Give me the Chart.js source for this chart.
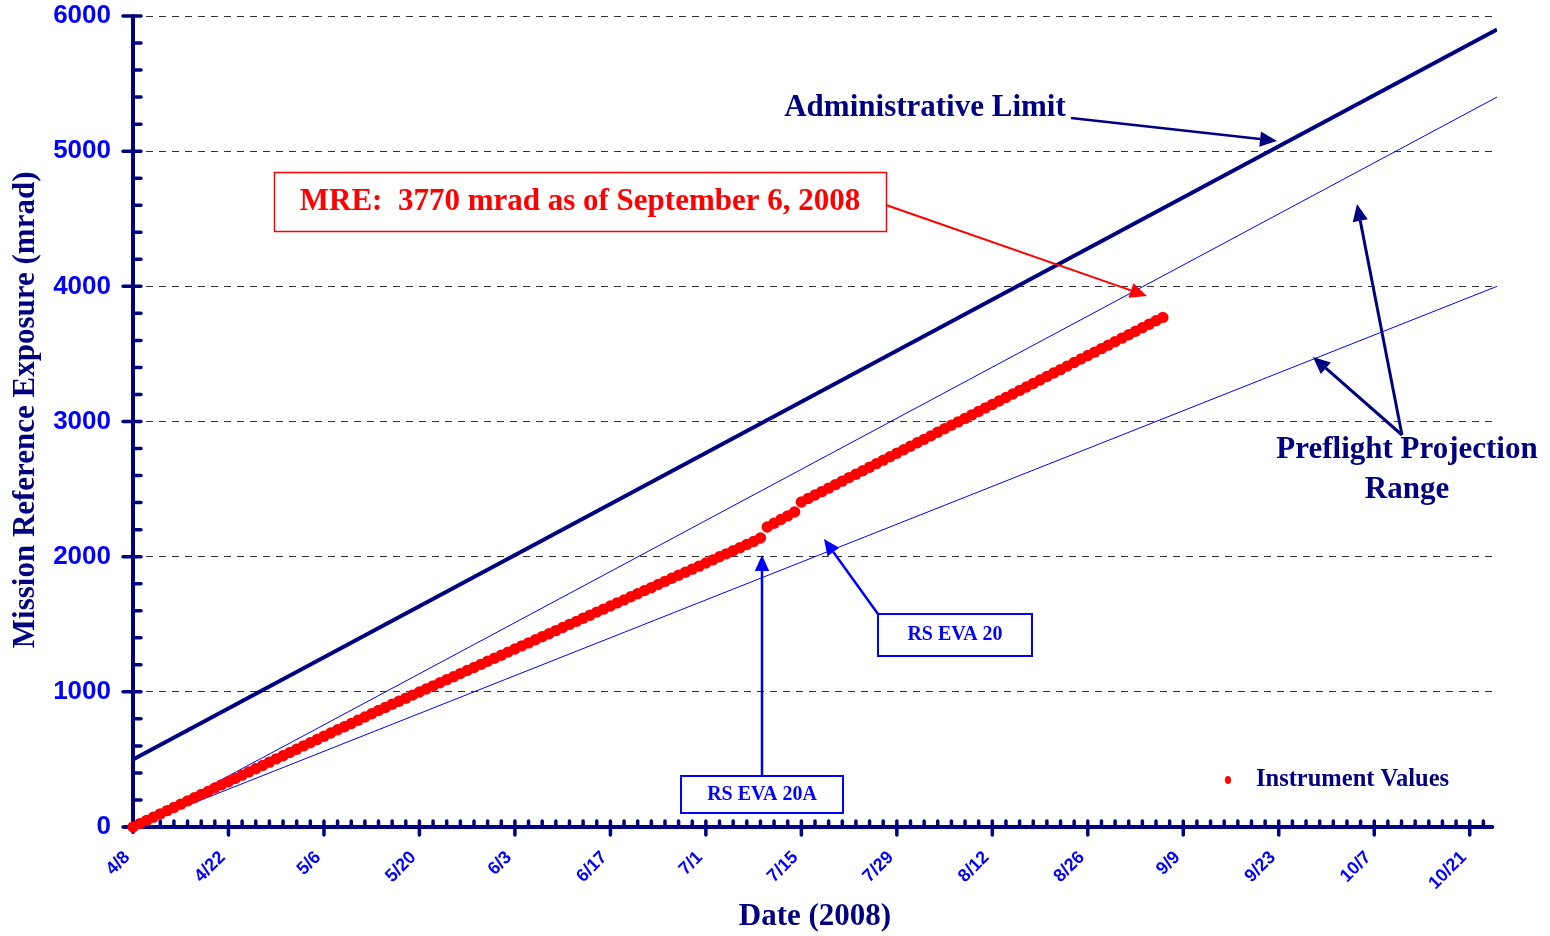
<!DOCTYPE html>
<html>

<head>
    <style>
        body { margin: 0; background: #fff; }
    </style>
</head>

<body>
    <div>
        <canvas id="chartId" width="1550" height="936"></canvas>
    </div>
    <script src="https://cdn.jsdelivr.net/npm/chart.js"></script>
    <script>
        // 1. 데이터
        // x축 : 4/8 기준 경과일, 14일 간격 눈금
        const tickDays = [0, 14, 28, 42, 56, 70, 84, 98, 112, 126, 140, 154, 168, 182, 196];
        const tickLabels = ['4/8', '4/22', '5/6', '5/20', '6/3', '6/17', '7/1', '7/15', '7/29', '8/12', '8/26', '9/9', '9/23', '10/7', '10/21'];
        const yTicks = [0, 1000, 2000, 3000, 4000, 5000, 6000];

        // 직선들 (시작일, 끝일)
        const lineDays = [0, 200];
        const adminLimit = [500, 5900];
        const preflightHigh = [0, 5400];
        const preflightLow = [0, 4000];

        // Instrument Values : 4/8(0일) ~ 9/6(151일), 하루 1점
        const instrumentValues = [
            0, 25, 49, 72, 97, 121, 144, 168, 193, 217,
            240, 263, 288, 312, 335, 359, 384, 408, 431, 455,
            480, 504, 527, 551, 575, 600, 623, 647, 671, 695,
            719, 742, 766, 790, 814, 838, 862, 885, 908, 930,
            953, 976, 999, 1021, 1044, 1067, 1090, 1112, 1135, 1158,
            1180, 1203, 1226, 1249, 1271, 1294, 1317, 1340, 1362, 1385,
            1408, 1430, 1453, 1476, 1499, 1521, 1544, 1567, 1590, 1612,
            1635, 1658, 1680, 1703, 1726, 1749, 1771, 1794, 1817, 1840,
            1862, 1885, 1908, 1930, 1953, 1976, 1999, 2021, 2044, 2067,
            2090, 2112, 2138, 2219, 2247, 2275, 2302, 2330, 2404, 2430,
            2456, 2481, 2507, 2533, 2559, 2585, 2610, 2636, 2662, 2688,
            2714, 2739, 2765, 2791, 2817, 2843, 2868, 2894, 2920, 2946,
            2972, 2997, 3023, 3049, 3075, 3101, 3126, 3152, 3178, 3204,
            3230, 3255, 3281, 3307, 3333, 3359, 3384, 3410, 3436, 3462,
            3488, 3513, 3539, 3565, 3591, 3617, 3642, 3668, 3694, 3720,
            3745, 3770
        ];

        const NAVY = '#000080';
        const BLUE = '#0000FF';
        const RED = '#FF0000';
        const SERIF = '"Liberation Serif", "Times New Roman", serif';
        const SANS = '"Liberation Sans", Arial, sans-serif';

        const toPoints = (days, vals) => days.map((d, i) => ({ x: d, y: vals[i] }));

        // 2. 축 그리기 (굵은 남색 축 + 큰/작은 눈금)
        const axisPlugin = {
            id: 'axisPlugin',
            beforeDatasetsDraw(chart) {
                const { ctx, scales: { x, y } } = chart;
                const x0 = x.getPixelForValue(0);
                const y0 = y.getPixelForValue(0);
                ctx.save();
                ctx.strokeStyle = NAVY;
                ctx.lineCap = 'round';
                ctx.lineWidth = 4;
                ctx.beginPath();
                ctx.moveTo(x0, y.getPixelForValue(6000));
                ctx.lineTo(x0, y0 + 5);
                ctx.moveTo(x0 - 8, y0);
                ctx.lineTo(x.getPixelForValue(199.3), y0);
                ctx.stroke();

                ctx.lineWidth = 3.5;
                ctx.beginPath();
                for (let v = 0; v <= 6000; v += 200) {
                    const py = y.getPixelForValue(v);
                    if (v % 1000 === 0) {
                        ctx.moveTo(x0 - 10, py);
                    } else {
                        ctx.moveTo(x0, py);
                    }
                    ctx.lineTo(x0 + 8, py);
                }
                for (let d = 2; d <= 198; d += 2) {
                    const px = x.getPixelForValue(d);
                    ctx.moveTo(px, y0 - 6);
                    ctx.lineTo(px, d % 14 === 0 ? y0 + 8 : y0);
                }
                ctx.stroke();
                ctx.restore();
            }
        };

        // 화살표
        function arrow(ctx, x1, y1, x2, y2, color, width, head) {
            const ang = Math.atan2(y2 - y1, x2 - x1);
            const bx = x2 - head * Math.cos(ang);
            const by = y2 - head * Math.sin(ang);
            ctx.save();
            ctx.strokeStyle = color;
            ctx.fillStyle = color;
            ctx.lineWidth = width;
            ctx.beginPath();
            ctx.moveTo(x1, y1);
            ctx.lineTo(bx, by);
            ctx.stroke();
            const hw = head * 0.45;
            ctx.beginPath();
            ctx.moveTo(x2, y2);
            ctx.lineTo(bx + hw * Math.sin(ang), by - hw * Math.cos(ang));
            ctx.lineTo(bx - hw * Math.sin(ang), by + hw * Math.cos(ang));
            ctx.closePath();
            ctx.fill();
            ctx.restore();
        }

        // 3. 주석 (텍스트 박스, 화살표, 범례)
        const notePlugin = {
            id: 'notePlugin',
            afterDraw(chart) {
                const ctx = chart.ctx;
                ctx.save();
                ctx.textBaseline = 'middle';
                ctx.textAlign = 'center';

                ctx.font = 'bold 31px ' + SERIF;
                ctx.fillStyle = NAVY;
                ctx.fillText('Administrative Limit', 925, 108);
                arrow(ctx, 1071, 118, 1277, 141, NAVY, 2.5, 17);

                ctx.strokeStyle = RED;
                ctx.lineWidth = 1.5;
                ctx.strokeRect(274.5, 172.5, 612, 59);
                ctx.fillStyle = RED;
                ctx.fillText('MRE:  3770 mrad as of September 6, 2008', 580, 202);
                arrow(ctx, 886, 205, 1147, 296, RED, 2, 17);

                ctx.fillStyle = NAVY;
                ctx.fillText('Preflight Projection', 1407, 450);
                ctx.fillText('Range', 1407, 490);
                arrow(ctx, 1402, 435, 1357, 204, NAVY, 3, 17);
                arrow(ctx, 1402, 435, 1313, 357, NAVY, 3, 17);

                ctx.strokeStyle = BLUE;
                ctx.lineWidth = 2;
                ctx.strokeRect(878, 614, 154, 42);
                ctx.strokeRect(681, 776, 162, 37);
                ctx.font = 'bold 20px ' + SERIF;
                ctx.fillStyle = BLUE;
                ctx.fillText('RS EVA 20', 955, 635);
                ctx.fillText('RS EVA 20A', 762, 795);
                arrow(ctx, 878, 614, 824, 539, BLUE, 2.5, 16);
                arrow(ctx, 762, 776, 762, 555, BLUE, 2.5, 16);

                // 범례
                ctx.fillStyle = RED;
                ctx.beginPath();
                ctx.ellipse(1228, 780, 3, 4, 0, 0, Math.PI * 2);
                ctx.fill();
                ctx.textAlign = 'left';
                ctx.font = 'bold 24.5px ' + SERIF;
                ctx.fillStyle = NAVY;
                ctx.fillText('Instrument Values', 1256, 780);
                ctx.restore();
            }
        };

        const chartCanvas = document.getElementById('chartId');

        new Chart(chartCanvas, {
            type: 'scatter',
            data: {
                datasets: [
                    {
                        label: 'Instrument Values',
                        data: instrumentValues.map((v, i) => ({ x: i, y: v })),
                        backgroundColor: RED,
                        borderColor: RED,
                        pointRadius: 5.7,
                        pointBorderWidth: 0,
                        showLine: false,
                        clip: false
                    },
                    {
                        label: 'Administrative Limit',
                        data: toPoints(lineDays, adminLimit),
                        showLine: true,
                        borderColor: NAVY,
                        borderWidth: 4,
                        pointRadius: 0
                    },
                    {
                        label: 'Preflight High',
                        data: toPoints(lineDays, preflightHigh),
                        showLine: true,
                        borderColor: BLUE,
                        borderWidth: 1,
                        pointRadius: 0
                    },
                    {
                        label: 'Preflight Low',
                        data: toPoints(lineDays, preflightLow),
                        showLine: true,
                        borderColor: BLUE,
                        borderWidth: 1,
                        pointRadius: 0
                    }
                ]
            },
            options: {
                responsive: false,
                animation: false,
                devicePixelRatio: 1,
                layout: { padding: { top: 16, right: 53, left: 0, bottom: 0 } },
                plugins: {
                    legend: { display: false },
                    tooltip: { enabled: false }
                },
                scales: {
                    x: {
                        type: 'linear',
                        min: 0,
                        max: 200,
                        afterBuildTicks: scale => { scale.ticks = tickDays.map(v => ({ value: v })); },
                        afterFit: scale => {
                            scale.height = 109;
                            scale.paddingLeft = 0;
                            scale.paddingRight = 0;
                        },
                        grid: { display: false, drawTicks: false },
                        border: { display: false },
                        ticks: {
                            autoSkip: false,
                            minRotation: 45,
                            maxRotation: 45,
                            padding: 20,
                            labelOffset: -6,
                            color: BLUE,
                            font: { family: SANS, weight: 'bold', size: 18 },
                            callback: value => tickLabels[tickDays.indexOf(value)]
                        },
                        title: {
                            display: true,
                            text: 'Date (2008)',
                            color: NAVY,
                            padding: { top: 0, bottom: 0 },
                            font: { family: SERIF, weight: 'bold', size: 31 }
                        }
                    },
                    y: {
                        min: 0,
                        max: 6000,
                        afterBuildTicks: scale => { scale.ticks = yTicks.map(v => ({ value: v })); },
                        afterFit: scale => {
                            scale.width = 133;
                            scale.paddingTop = 0;
                            scale.paddingBottom = 0;
                        },
                        grid: {
                            drawTicks: false,
                            lineWidth: 1,
                            color: c => (c.tick && c.tick.value === 0) ? 'rgba(0,0,0,0)' : '#333333'
                        },
                        border: { display: false, dash: [7, 6] },
                        ticks: {
                            padding: 22,
                            color: BLUE,
                            font: { family: SANS, weight: 'bold', size: 26 },
                            callback: value => String(value)
                        },
                        title: {
                            display: true,
                            text: '\u00a0\u00a0\u00a0Mission Reference Exposure (mrad)',
                            color: NAVY,
                            padding: { top: 7, bottom: 0 },
                            font: { family: SERIF, weight: 'bold', size: 31 }
                        }
                    }
                }
            },
            plugins: [axisPlugin, notePlugin]
        });
    </script>
</body>

</html>
